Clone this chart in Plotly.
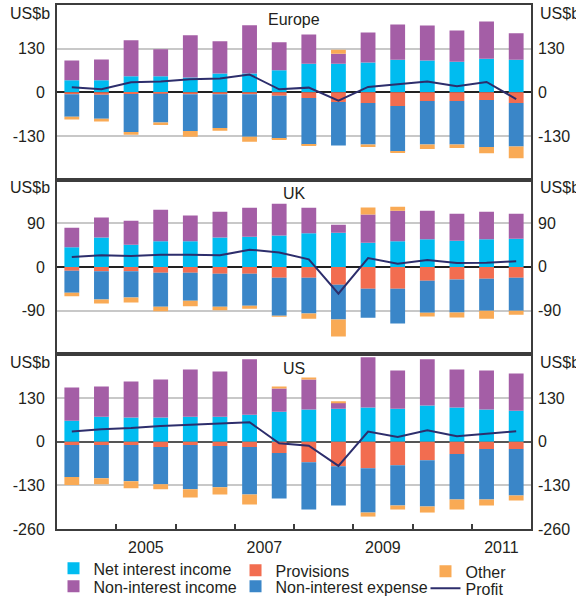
import plotly.graph_objects as go

# Half-year periods, 2004 H1 .. 2011 H2 (positioned at the middle of each half)
periods = [2004.25 + 0.5 * i for i in range(16)]

# Europe, US$b
eu_nii = [36, 36, 48, 48, 44, 56, 56, 66, 85, 85, 89, 97, 95, 91, 100, 97]
eu_nonii = [59, 62, 107, 80, 126, 96, 144, 83, 87, 30, 89, 105, 104, 93, 111, 79]
eu_prov = [-6, -7, -5, -4, -6, -6, -6, -10, -17, -29, -32, -41, -26, -26, -23, -32]
eu_nie = [-67, -72, -113, -86, -109, -100, -126, -128, -139, -129, -123, -135, -129, -129, -140, -129]
eu_other = [-8, -8, -8, -7, -17, -8, -15, -3, -2, 12, -8, -3, -14, -11, -18, -35]
eu_profit = [15, 9, 30, 32, 39, 41, 53, 9, 14, -25, 16, 25, 32, 18, 31, -20]

# UK, US$b
uk_nii = [40.5, 61, 46, 53, 53, 61, 62.5, 65, 69.4, 70.8, 50, 53, 57, 54.3, 57, 58.4]
uk_nonii = [40.5, 41, 49.5, 65, 53, 53, 59.8, 65.5, 52.9, 16.5, 58, 63, 59, 55.7, 57, 51.6]
uk_prov = [-7.5, -9, -9, -11.7, -11.7, -13.7, -13.7, -22, -22, -36.4, -44.7, -44.7, -28.2, -26, -24, -22]
uk_nie = [-45.5, -58, -54, -70, -57.7, -68, -66, -78.3, -74, -72, -59.8, -72, -66, -68, -66, -68]
uk_other = [-7.5, -8, -10, -9.6, -11.7, -7.5, -6.2, -2, -10.5, -35, 14.4, 8.2, -7.6, -10.3, -16.5, -8.2]
uk_profit = [20.6, 24, 22.7, 25.4, 25.4, 24, 35.7, 30, 15.8, -55, 18.5, 6.9, 14.4, 8.2, 9, 11.7]

# US, US$b
us_nii = [62, 74, 72, 72, 74, 74, 80, 89, 96, 98, 102, 98, 108, 102, 96, 92]
us_nonii = [99, 90, 107, 113, 141, 135, 165, 69, 89, 18, 149, 114, 137, 113, 116, 111]
us_prov = [-10, -10, -10, -16, -10, -13, -16, -34, -61, -73, -79, -70, -55, -37, -22, -22]
us_nie = [-95, -99, -108, -111, -132, -123, -141, -135, -141, -117, -132, -120, -138, -135, -150, -138]
us_other = [-24, -18, -21, -15, -24, -21, -30, 6, 6, 3, -12, -12, -18, -30, -18, -15]
us_profit = [30, 37, 41, 47, 50, 54, 58, -5, -12, -72, 30, 14, 34, 16, 24, 31]

year_ticks = [2005.5, 2007.5, 2009.5, 2011.5]
year_labels = ["2005", "2007", "2009", "2011"]
year_bounds = [2005, 2006, 2007, 2008, 2009, 2010, 2011]

panels = [
    ("Europe", "x", "y", [-260, 260], [-130, 0, 130],
     (eu_nii, eu_nonii, eu_prov, eu_nie, eu_other, eu_profit)),
    ("UK", "x2", "y2", [-180, 180], [-90, 0, 90],
     (uk_nii, uk_nonii, uk_prov, uk_nie, uk_other, uk_profit)),
    ("US", "x3", "y3", [-260, 260], [-260, -130, 0, 130],
     (us_nii, us_nonii, us_prov, us_nie, us_other, us_profit)),
]

C_NII = "#00BCF0"
C_NONII = "#A45EA6"
C_PROV = "#F26D50"
C_NIE = "#3A86C8"
C_OTHER = "#F9AA55"
C_PROFIT = "#2D2E6C"

# name, colour, legend slot (one legend per entry so the grid can be placed freely)
series_style = [
    ("Net interest income", C_NII, "legend"),
    ("Non-interest income", C_NONII, "legend2"),
    ("Provisions", C_PROV, "legend3"),
    ("Non-interest expense", C_NIE, "legend4"),
    ("Other", C_OTHER, "legend5"),
]

FONT = "Liberation Sans, Arial, sans-serif"
TXT = "#231F20"
FRAME = "#3C3C3C"

fig = go.Figure()
for p, (title, xa, ya, rng, tv, data) in enumerate(panels):
    for (name, color, lg), vals in zip(series_style, data[:5]):
        fig.add_trace(go.Bar(
            x=periods, y=vals, width=0.25, name=name,
            marker=dict(color=color, line=dict(width=0)),
            xaxis=xa, yaxis=ya, legend=lg, showlegend=(p == 0),
        ))
    fig.add_trace(go.Scatter(
        x=periods, y=data[5], mode="lines", name="Profit",
        line=dict(color=C_PROFIT, width=2),
        xaxis=xa, yaxis=ya, legend="legend6", showlegend=(p == 0),
    ))

domains = [[2 / 3, 1.0], [1 / 3, 2 / 3], [0.0, 1 / 3]]
layout = dict(
    width=576, height=600,
    margin=dict(l=57, r=45, t=5, b=71),
    paper_bgcolor="white", plot_bgcolor="white",
    barmode="relative",
    font=dict(family=FONT, size=16, color=TXT),
)

annotations = []
for i, (title, xa, ya, rng, tv, data) in enumerate(panels):
    xk = "xaxis" if i == 0 else f"xaxis{i + 1}"
    yk = "yaxis" if i == 0 else f"yaxis{i + 1}"
    last = i == 2
    layout[xk] = dict(
        domain=[0, 1], anchor=ya, range=[2004, 2012],
        showline=True, mirror=True, linecolor=FRAME, linewidth=2,
        showgrid=False, zeroline=False, fixedrange=True,
        tickvals=year_ticks if last else [],
        ticktext=year_labels if last else [],
        showticklabels=last, ticks="",
        ticklabelstandoff=3, automargin=False,
    )
    if last:
        layout[xk]["minor"] = dict(
            tickvals=year_bounds, ticks="inside", ticklen=5,
            tickwidth=1.5, tickcolor=FRAME, showgrid=False,
        )
    layout[yk] = dict(
        domain=domains[i], anchor=xa, range=rng,
        tickvals=tv, ticktext=[str(v) for v in tv],
        showline=True, mirror=True, linecolor=FRAME, linewidth=2,
        showgrid=True, gridcolor="#C8C8C8", gridwidth=1.5,
        zeroline=True, zerolinecolor="#555555" if last else "#222222",
        zerolinewidth=1.5, ticks="", ticklabelstandoff=7,
        fixedrange=True, automargin=False,
    )
    # the same scale labels repeated on the right-hand side of each panel
    for v in tv:
        annotations.append(dict(
            text=str(v), xref="paper", yref=ya, x=1, y=v, xshift=5,
            xanchor="left", yanchor="middle", showarrow=False,
            font=dict(size=16, color=TXT, family=FONT),
        ))
    annotations.append(dict(
        text=title, xref="x domain" if i == 0 else f"x{i + 1} domain",
        yref="y domain" if i == 0 else f"y{i + 1} domain",
        x=0.5, y=1, yshift=-14, xanchor="center", yanchor="middle",
        showarrow=False, font=dict(size=16, color=TXT, family=FONT),
    ))
    for side_x, anchor, shift in [(0, "right", -5), (1, "left", 7)]:
        annotations.append(dict(
            text="US$b", xref="paper",
            yref="y domain" if i == 0 else f"y{i + 1} domain",
            x=side_x, y=1, xshift=shift, yshift=-8,
            xanchor=anchor, yanchor="middle", showarrow=False,
            font=dict(size=16, color=TXT, family=FONT),
        ))

layout["annotations"] = annotations

leg_common = dict(
    orientation="h", yanchor="top", xanchor="left",
    xref="container", yref="container",
    bgcolor="rgba(0,0,0,0)", borderwidth=0,
    font=dict(size=16, color=TXT, family=FONT),
    itemclick=False, itemdoubleclick=False,
)
# legend grid: three columns, two rows
legend_pos = {
    "legend": (0.0929, 0.0810),
    "legend2": (0.0929, 0.0510),
    "legend3": (0.4089, 0.0777),
    "legend4": (0.4089, 0.0510),
    "legend5": (0.7387, 0.0760),
    "legend6": (0.7387, 0.0477),
}
for key, (lx, ly) in legend_pos.items():
    layout[key] = dict(leg_common, x=lx, y=ly)

fig.update_layout(layout)
fig.write_html("out.html")
